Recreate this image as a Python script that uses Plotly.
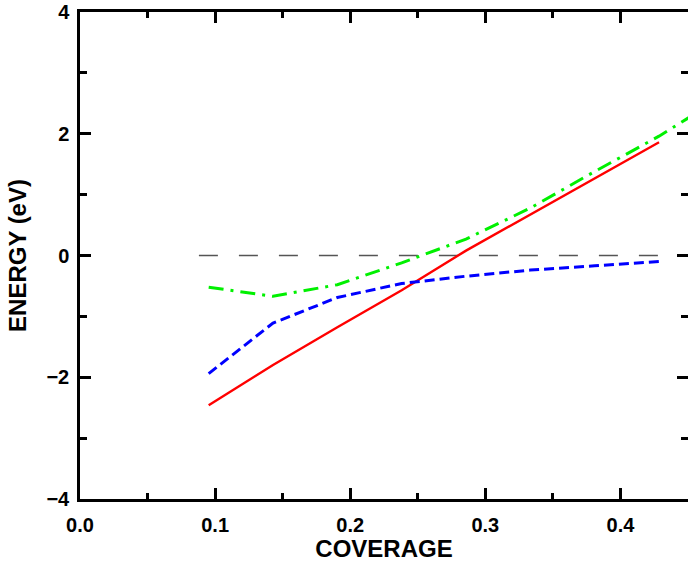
import plotly.graph_objects as go

# Coverage values (fractions k/21)
coverage = [2/21, 3/21, 4/21, 5/21, 6/21, 7/21, 8/21, 9/21]
coverage_green = [2/21, 3/21, 4/21, 5/21, 6/21, 7/21, 8/21, 9/21, 10/21]

energy_red = [-2.46, -1.80, -1.18, -0.57, 0.08, 0.67, 1.26, 1.86]
energy_blue = [-1.94, -1.11, -0.69, -0.46, -0.34, -0.24, -0.17, -0.10]
energy_green = [-0.52, -0.67, -0.48, -0.12, 0.27, 0.78, 1.38, 1.96, 2.62]

zero_x = [0.088, 0.429]
zero_y = [0, 0]

x_ticks = [0.0, 0.1, 0.2, 0.3, 0.4]
x_ticklabels = ["0.0", "0.1", "0.2", "0.3", "0.4"]
y_ticks = [-4, -2, 0, 2, 4]

FONT = "Liberation Sans, Arial, Helvetica, sans-serif"

fig = go.Figure()
fig.add_trace(go.Scatter(x=zero_x, y=zero_y, mode="lines",
                         line=dict(color="#555555", width=1.5, dash="19px,21px"),
                         showlegend=False, hoverinfo="skip"))
fig.add_trace(go.Scatter(x=coverage, y=energy_red, mode="lines",
                         line=dict(color="#ff0000", width=2.4), showlegend=False))
fig.add_trace(go.Scatter(x=coverage, y=energy_blue, mode="lines",
                         line=dict(color="#0000ff", width=3, dash="10px,5px"), showlegend=False))
fig.add_trace(go.Scatter(x=coverage_green, y=energy_green, mode="lines",
                         line=dict(color="#00f000", width=3, dash="15px,7px,3px,7px"),
                         showlegend=False))
# invisible trace to carry the right-hand tick axis
fig.add_trace(go.Scatter(x=[None], y=[None], yaxis="y2", showlegend=False, hoverinfo="skip"))

axis_font = dict(family=FONT, size=20, color="black", weight="bold")
title_font = dict(family=FONT, size=24, color="black", weight="bold")

fig.update_layout(
    width=688, height=562,
    margin=dict(l=80, r=0, t=12, b=63),
    paper_bgcolor="white", plot_bgcolor="white",
    xaxis=dict(
        range=[0, 0.45], tickvals=x_ticks, ticktext=x_ticklabels,
        ticks="inside", ticklen=11, tickwidth=2.5, tickcolor="black",
        showline=True, linecolor="black", linewidth=2.5, mirror="ticks",
        showgrid=False, zeroline=False, automargin=False,
        tickfont=axis_font, ticklabelstandoff=6,
        minor=dict(ticks="inside", ticklen=6, tickwidth=2.5, tickcolor="black", dtick=0.05, tick0=0, showgrid=False),
        title=dict(text="COVERAGE", font=title_font, standoff=4),
    ),
    yaxis=dict(
        range=[-4, 4], tickvals=y_ticks,
        ticks="inside", ticklen=11, tickwidth=2.5, tickcolor="black",
        showline=True, linecolor="black", linewidth=2.5,
        showgrid=False, zeroline=False, automargin=False,
        tickfont=axis_font, ticklabelstandoff=4,
        minor=dict(ticks="inside", ticklen=7, tickwidth=2.5, tickcolor="black", dtick=1, tick0=0, showgrid=False),
        title=dict(text="ENERGY (eV)", font=title_font, standoff=14),
    ),
    yaxis2=dict(
        overlaying="y", side="right", range=[-4, 4], tickvals=y_ticks,
        ticks="inside", ticklen=11, tickwidth=2.5, tickcolor="black",
        showline=False, showgrid=False, zeroline=False, showticklabels=False,
        automargin=False,
        minor=dict(ticks="inside", ticklen=7, tickwidth=2.5, tickcolor="black", dtick=1, tick0=0, showgrid=False),
    ),
)

fig.write_html("out.html", config={"displayModeBar": False},
               post_script="document.body.style.margin='0';document.body.style.padding='0';")
